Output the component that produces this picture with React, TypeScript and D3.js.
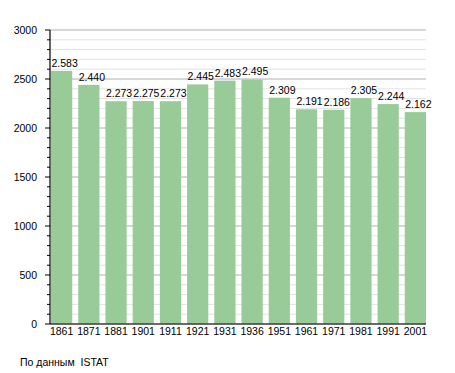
import React from "react";
import { scaleBand, scaleLinear, range } from "d3";

const years = ["1861", "1871", "1881", "1901", "1911", "1921", "1931", "1936", "1951", "1961", "1971", "1981", "1991", "2001"];
const population = [2583, 2440, 2273, 2275, 2273, 2445, 2483, 2495, 2309, 2191, 2186, 2305, 2244, 2162];
const majorTicks = [0, 500, 1000, 1500, 2000, 2500, 3000];
const source = "По данным  ISTAT";

const W = 455;
const H = 373;
const left = 50;
const right = 426;
const top = 30;
const bottom = 324;
const font = "'Liberation Sans', Arial, sans-serif";

// 2583 -> "2.583"
const fmt = (v: number) => {
  const s = String(v);
  return s.length > 3 ? s.slice(0, -3) + "." + s.slice(-3) : s;
};

export default function App() {
  const x = scaleBand<string>().domain(years).range([left + 1, right]).paddingInner(0.22).paddingOuter(0);
  const y = scaleLinear().domain([0, 3000]).range([bottom, top]);
  const minor = range(0, 3001, 100).filter((v) => v % 500 !== 0);

  return (
    <svg width={W} height={H} style={{ position: "absolute", left: 0, top: 0 }} fontFamily={font}>
      <rect width={W} height={H} fill="#fff" />
      {minor.map((v) => (
        <line key={"m" + v} x1={left} x2={right} y1={y(v)} y2={y(v)} stroke="#e3e3e3" strokeWidth={1} />
      ))}
      {majorTicks.map((v) => (
        <line key={"g" + v} x1={left} x2={right} y1={y(v)} y2={y(v)} stroke="#b0b0b0" strokeWidth={1} />
      ))}
      {years.map((yr, i) => (
        <rect key={yr} x={x(yr)} y={y(population[i])} width={x.bandwidth()} height={bottom - y(population[i])} fill="#98cb98" />
      ))}
      {years.map((yr, i) => (
        <text key={"v" + yr} x={(x(yr) as number) + 0.5} y={y(population[i]) - 4} fontSize={10.5} fill="#000">
          {fmt(population[i])}
        </text>
      ))}
      {/* y axis */}
      <line x1={left} x2={left} y1={top} y2={bottom} stroke="#000" strokeWidth={1.2} />
      {minor.map((v) => (
        <line key={"t" + v} x1={left - 3} x2={left} y1={y(v)} y2={y(v)} stroke="#000" />
      ))}
      {majorTicks.map((v) => (
        <g key={"T" + v}>
          <line x1={left - 5} x2={left} y1={y(v)} y2={y(v)} stroke="#000" />
          <text x={37} y={y(v) + 4} textAnchor="end" fontSize={10.5} fill="#000">
            {v}
          </text>
        </g>
      ))}
      {/* x axis */}
      <line x1={left} x2={right} y1={bottom} y2={bottom} stroke="#000" strokeWidth={1.2} />
      {years.map((yr) => (
        <text key={"x" + yr} x={(x(yr) as number) + x.bandwidth() / 2} y={bottom + 11} textAnchor="middle" fontSize={10.5} fill="#000">
          {yr}
        </text>
      ))}
      <text x={20} y={366} fontSize={10.5} fill="#000" style={{ whiteSpace: "pre" }}>
        {source}
      </text>
    </svg>
  );
}
